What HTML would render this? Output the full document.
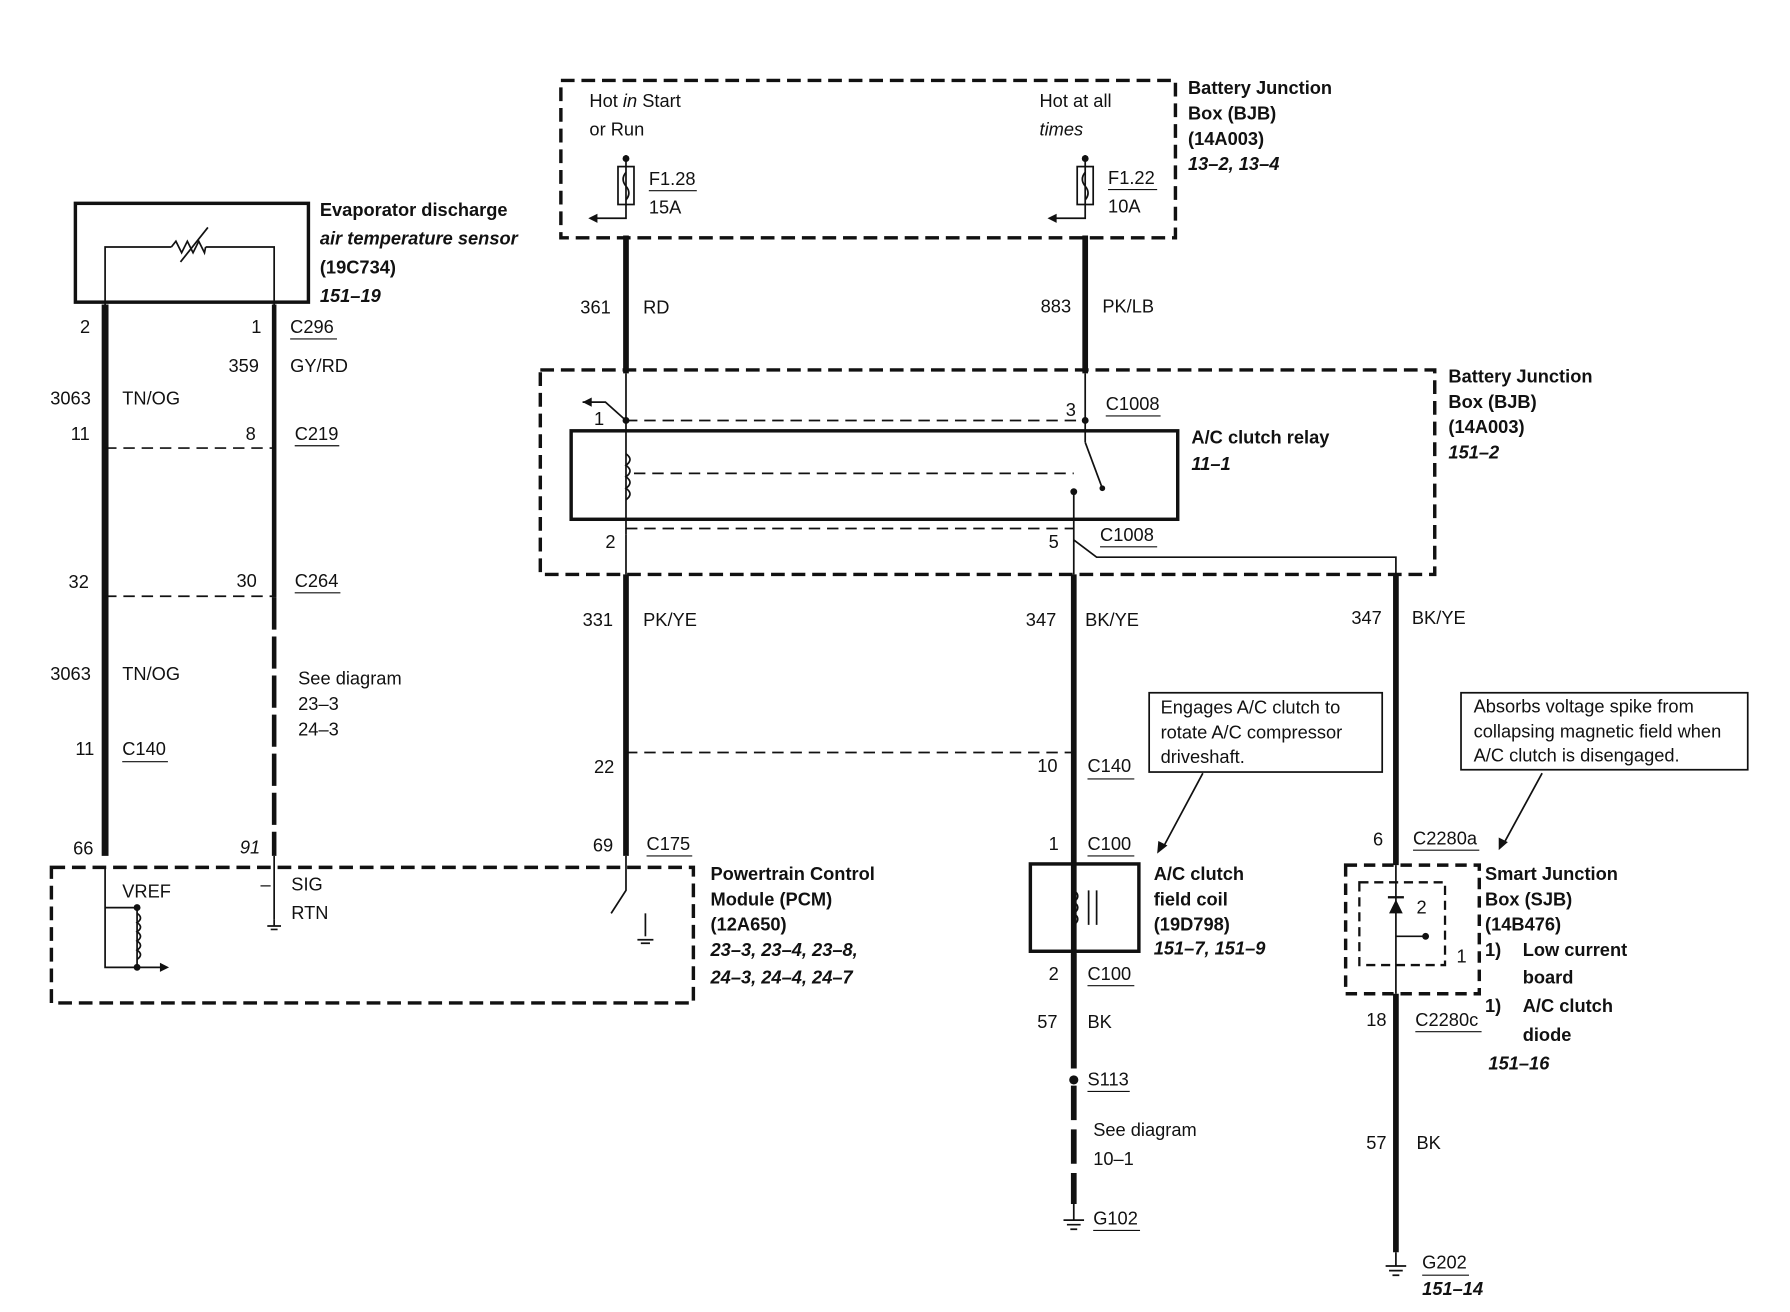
<!DOCTYPE html>
<html><head><meta charset="utf-8"><style>
html,body{margin:0;padding:0;background:#fff;}
svg{display:block}
text{font-family:"Liberation Sans",Arial,sans-serif;font-size:16px;fill:#111;}
.b{font-weight:bold}
.i{font-style:italic}
.bi{font-weight:bold;font-style:italic}
</style></head><body>
<svg width="1790" height="1312" viewBox="0 0 1567 1142" preserveAspectRatio="none" xmlns="http://www.w3.org/2000/svg">
<g fill="none" stroke="#111">
<rect x="491" y="70" width="538" height="137" stroke-width="3" stroke-dasharray="12,6"/>
<rect x="473" y="322" width="783" height="178" stroke-width="3" stroke-dasharray="12,6"/>
<rect x="500" y="375" width="531" height="77" stroke-width="3"/>
<rect x="45" y="755" width="562" height="118" stroke-width="3" stroke-dasharray="12,6"/>
<rect x="66" y="177" width="204" height="86" stroke-width="3"/>
<path d="M92 265 V215 H150 M180 215 H240 V265" stroke-width="1.5"/>
<path d="M150 215 l4 -5 l5 10 l5 -10 l5 10 l5 -10 l5 10 l1 -5" stroke-width="1.5"/>
<path d="M158 228 L182 198" stroke-width="1.5"/>
<rect x="541" y="145" width="14" height="33" stroke-width="1.5"/>
<path d="M548 150 q-5 6 0 12 q5 6 0 12" stroke-width="1.5"/>
<rect x="943" y="145" width="14" height="33" stroke-width="1.5"/>
<path d="M950 150 q-5 6 0 12 q5 6 0 12" stroke-width="1.5"/>
<path d="M548 135 V190 H520 M950 135 V190 H922" stroke-width="1.5"/>
<path d="M548 205 V325 M950 205 V325" stroke-width="5"/>
<path d="M548 325 V465 M950 325 V385" stroke-width="1.5"/>
<path d="M548 500 V745" stroke-width="5"/>
<path d="M548 465 V500" stroke-width="1.5"/>
<path d="M940 500 V930" stroke-width="5"/>
<path d="M940 428 V500" stroke-width="1.5"/>
<path d="M940 945 V1048" stroke-width="5" stroke-dasharray="30,8"/>
<path d="M1222 500 V753" stroke-width="5"/>
<path d="M1222 865 V1090" stroke-width="5"/>
<path d="M940 470 L960 485 H1222 V500" stroke-width="1.5"/>
<path d="M92 265 V745" stroke-width="6"/>
<path d="M240 265 V520" stroke-width="4"/>
<path d="M240 520 V745" stroke-width="4" stroke-dasharray="28,6"/>
<path d="M92 390 H240 M92 519 H240 M548 366 H950 M548 460 H940 M548 655 H940 M555 412 H940" stroke-width="1.5" stroke-dasharray="10,6"/>
<path d="M548 395 q7 5 0 10 q7 5 0 10 q7 5 0 10 q7 5 0 10" stroke-width="1.5"/>
<path d="M950 385 L965 425" stroke-width="1.5"/>
<path d="M548 366 L530 350 H510" stroke-width="1.5"/>
<path d="M548 745 V775 L535 795" stroke-width="1.5"/>
<path d="M565 795 V815" stroke-width="1.5"/>
<path d="M92 755 V842 H145 M120 790 V842" stroke-width="1.5"/>
<path d="M120 795 q6 4 0 8 q6 4 0 8 q6 4 0 8 q6 4 0 8 q6 4 0 8" stroke-width="1.5"/>
<path d="M240 745 V800" stroke-width="1.5"/>
<path d="M92 790 H120" stroke-width="1.5"/>
<rect x="902" y="752" width="95" height="76" stroke-width="3"/>
<path d="M940 745 V835" stroke-width="1.5"/>
<path d="M940 775 q7 5 0 10 q7 5 0 10 q7 5 0 10" stroke-width="1.5"/>
<path d="M953 775 V805 M960 775 V805" stroke-width="1.5"/>
<path d="M940 830 V930" stroke-width="5"/>
<rect x="1178" y="753" width="117" height="112" stroke-width="3" stroke-dasharray="10,6"/>
<rect x="1190" y="768" width="75" height="72" stroke-width="2" stroke-dasharray="8,5"/>
<path d="M1222 753 V865 M1222 815 H1248" stroke-width="1.5"/>
<rect x="1006" y="603" width="204" height="69" stroke-width="1.5"/>
<rect x="1279" y="603" width="251" height="67" stroke-width="1.5"/>
<path d="M1053 673 L1018 738 M1350 673 L1316 735" stroke-width="1.5"/>
<path d="M940 1048 V1062 M931 1062 H949 M934 1066 H946 M937 1070 H943" stroke-width="1.5"/>
<path d="M1222 1090 V1102 M1213 1102 H1231 M1216 1106 H1228 M1219 1110 H1225" stroke-width="1.5"/>
<path d="M240 800 V806 M234 806 H246 M237 809 H243" stroke-width="1.5"/>
<path d="M558 818 H572 M561 821 H569" stroke-width="1.5"/>
<path d="M568 166 H610 M970 165 H1013 M254 295 H295 M258 388 H297 M258 516 H298 M107 663 H147 M566 745 H606 M968 362 H1016 M963 476 H1013 M952 678 H993 M952 745 H993 M952 858 H993 M952 950 H989 M957 1071 H998 M1237 740 H1295 M1239 898 H1297 M1245 1110 H1286" stroke-width="1"/>
</g>
<g fill="#111">
<polygon points="510,350 518,346 518,354"/>
<polygon points="515,190 523,186 523,194"/>
<polygon points="917,190 925,186 925,194"/>
<polygon points="148,842 140,838 140,846"/>
<polygon points="1013,743 1014,732 1022,736"/>
<polygon points="1312,740 1312,729 1320,733"/>
<polygon points="1216,795 1228,795 1222,783"/>
<rect x="1215" y="780" width="14" height="2"/>
<circle cx="548" cy="138" r="3"/><circle cx="950" cy="138" r="3"/>
<circle cx="940" cy="428" r="3"/><circle cx="965" cy="425" r="2.5"/>
<circle cx="940" cy="940" r="4"/><circle cx="120" cy="790" r="3"/><circle cx="120" cy="842" r="3"/>
<circle cx="1248" cy="815" r="3"/><circle cx="548" cy="366" r="3"/><circle cx="950" cy="366" r="3"/>
</g>
<text x="516" y="93">Hot <tspan class="i">in</tspan> Start</text>
<text x="516" y="118">or Run</text>
<text x="910" y="93">Hot at all</text>
<text x="910" y="118" class="i">times</text>
<text x="568" y="161">F1.28</text><text x="568" y="186">15A</text>
<text x="970" y="160">F1.22</text><text x="970" y="185">10A</text>
<text x="1040" y="82" class="b">Battery Junction</text>
<text x="1040" y="104" class="b">Box (BJB)</text>
<text x="1040" y="126" class="b">(14A003)</text>
<text x="1040" y="148" class="bi">13–2, 13–4</text>
<text x="508" y="273">361</text><text x="563" y="273">RD</text>
<text x="911" y="272">883</text><text x="965" y="272">PK/LB</text>
<text x="1268" y="333" class="b">Battery Junction</text>
<text x="1268" y="355" class="b">Box (BJB)</text>
<text x="1268" y="377" class="b">(14A003)</text>
<text x="1268" y="399" class="bi">151–2</text>
<text x="1043" y="386" class="b">A/C clutch relay</text>
<text x="1043" y="409" class="bi">11–1</text>
<text x="520" y="370">1</text><text x="933" y="362">3</text><text x="968" y="357">C1008</text>
<text x="530" y="477">2</text><text x="918" y="477">5</text><text x="963" y="471">C1008</text>
<text x="510" y="545">331</text><text x="563" y="545">PK/YE</text>
<text x="898" y="545">347</text><text x="950" y="545">BK/YE</text>
<text x="1183" y="543">347</text><text x="1236" y="543">BK/YE</text>
<text x="520" y="673">22</text><text x="908" y="672">10</text><text x="952" y="672">C140</text>
<text x="519" y="741">69</text><text x="566" y="740">C175</text>
<text x="622" y="766" class="b">Powertrain Control</text>
<text x="622" y="788" class="b">Module (PCM)</text>
<text x="622" y="810" class="b">(12A650)</text>
<text x="622" y="832" class="bi">23–3, 23–4, 23–8,</text>
<text x="622" y="856" class="bi">24–3, 24–4, 24–7</text>
<text x="280" y="188" class="b">Evaporator discharge</text>
<text x="280" y="213" class="bi">air temperature sensor</text>
<text x="280" y="238" class="b">(19C734)</text>
<text x="280" y="263" class="bi">151–19</text>
<text x="70" y="290">2</text><text x="220" y="290">1</text><text x="254" y="290">C296</text>
<text x="200" y="324">359</text><text x="254" y="324">GY/RD</text>
<text x="44" y="352">3063</text><text x="107" y="352">TN/OG</text>
<text x="62" y="383">11</text><text x="215" y="383">8</text><text x="258" y="383">C219</text>
<text x="60" y="512">32</text><text x="207" y="511">30</text><text x="258" y="511">C264</text>
<text x="44" y="592">3063</text><text x="107" y="592">TN/OG</text>
<text x="261" y="596">See diagram</text><text x="261" y="618">23–3</text><text x="261" y="640">24–3</text>
<text x="66" y="657">11</text><text x="107" y="657">C140</text>
<text x="64" y="744">66</text><text x="210" y="743" class="i">91</text>
<text x="107" y="781">VREF</text><text x="228" y="775">–</text><text x="255" y="775">SIG</text><text x="255" y="800">RTN</text>
<text x="1016" y="621">Engages A/C clutch to</text>
<text x="1016" y="643">rotate A/C compressor</text>
<text x="1016" y="664">driveshaft.</text>
<text x="1290" y="620">Absorbs voltage spike from</text>
<text x="1290" y="642">collapsing magnetic field when</text>
<text x="1290" y="663">A/C clutch is disengaged.</text>
<text x="918" y="740">1</text><text x="952" y="740">C100</text>
<text x="1010" y="766" class="b">A/C clutch</text>
<text x="1010" y="788" class="b">field coil</text>
<text x="1010" y="810" class="b">(19D798)</text>
<text x="1010" y="831" class="bi">151–7, 151–9</text>
<text x="918" y="853">2</text><text x="952" y="853">C100</text>
<text x="908" y="895">57</text><text x="952" y="895">BK</text>
<text x="952" y="945">S113</text>
<text x="957" y="989">See diagram</text><text x="957" y="1014">10–1</text>
<text x="957" y="1066">G102</text>
<text x="1202" y="736">6</text><text x="1237" y="735">C2280a</text>
<text x="1240" y="795">2</text><text x="1275" y="838">1</text>
<text x="1196" y="893">18</text><text x="1239" y="893">C2280c</text>
<text x="1196" y="1000">57</text><text x="1240" y="1000">BK</text>
<text x="1245" y="1104">G202</text><text x="1245" y="1127" class="bi">151–14</text>
<text x="1300" y="766" class="b">Smart Junction</text>
<text x="1300" y="788" class="b">Box (SJB)</text>
<text x="1300" y="810" class="b">(14B476)</text>
<text x="1300" y="832" class="b">1)</text><text x="1333" y="832" class="b">Low current</text>
<text x="1333" y="856" class="b">board</text>
<text x="1300" y="881" class="b">1)</text><text x="1333" y="881" class="b">A/C clutch</text>
<text x="1333" y="906" class="b">diode</text>
<text x="1303" y="931" class="bi">151–16</text>
</svg>
</body></html>
